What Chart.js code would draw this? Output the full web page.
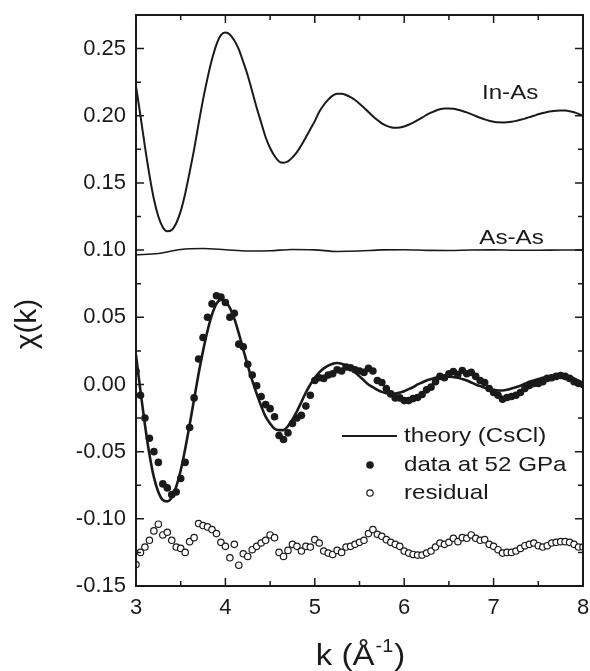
<!DOCTYPE html>
<html>
<head>
<meta charset="utf-8">
<script src="https://cdn.jsdelivr.net/npm/chart.js@4.4.1/dist/chart.umd.min.js"></script>
<style>
  html, body { margin: 0; padding: 0; background: #fff; }
  canvas { display: block; }
</style>
</head>
<body>
<canvas id="chart" width="590" height="671"></canvas>
<script>
// k grid (Å^-1) shared by theory, data and residual
const kValues = [
  3.00, 3.05, 3.10, 3.15, 3.20, 3.25, 3.30, 3.35, 3.40, 3.45, 3.50, 3.55, 3.60, 3.65, 3.70, 3.75, 3.80, 3.85, 3.90, 3.95,
  4.00, 4.05, 4.10, 4.15, 4.20, 4.25, 4.30, 4.35, 4.40, 4.45, 4.50, 4.55, 4.60, 4.65, 4.70, 4.75, 4.80, 4.85, 4.90, 4.95,
  5.00, 5.05, 5.10, 5.15, 5.20, 5.25, 5.30, 5.35, 5.40, 5.45, 5.50, 5.55, 5.60, 5.65, 5.70, 5.75, 5.80, 5.85, 5.90, 5.95,
  6.00, 6.05, 6.10, 6.15, 6.20, 6.25, 6.30, 6.35, 6.40, 6.45, 6.50, 6.55, 6.60, 6.65, 6.70, 6.75, 6.80, 6.85, 6.90, 6.95,
  7.00, 7.05, 7.10, 7.15, 7.20, 7.25, 7.30, 7.35, 7.40, 7.45, 7.50, 7.55, 7.60, 7.65, 7.70, 7.75, 7.80, 7.85, 7.90, 7.95,
  8.00
];

const theoryCsCl = [
  0.022, -0.005, -0.030, -0.052, -0.069, -0.080, -0.086, -0.087, -0.084, -0.076, -0.064, -0.048, -0.030, -0.011, 0.008, 0.025, 0.040, 0.052, 0.060, 0.063,
  0.062, 0.057, 0.049, 0.038, 0.026, 0.014, 0.003, -0.007, -0.016, -0.024, -0.029, -0.033, -0.034, -0.034, -0.031, -0.026, -0.020, -0.013, -0.006, 0.000,
  0.005, 0.009, 0.012, 0.014, 0.0155, 0.016, 0.0155, 0.014, 0.012, 0.009, 0.006, 0.003, 0.000, -0.002, -0.004, -0.0055, -0.0065, -0.007, -0.0068, -0.006,
  -0.005, -0.0035, -0.002, 0.000, 0.0015, 0.003, 0.004, 0.005, 0.0055, 0.0058, 0.0058, 0.0055, 0.005, 0.004, 0.003, 0.0015, 0.000, -0.0012, -0.0025, -0.0035,
  -0.004, -0.0045, -0.0045, -0.004, -0.003, -0.002, -0.001, 0.0005, 0.002, 0.003, 0.004, 0.005, 0.0058, 0.0063, 0.0067, 0.0068, 0.0066, 0.006, 0.0045, 0.0028,
  0.001
];

const data52GPa = [
  0.010, -0.008, -0.025, -0.040, -0.050, -0.058, -0.074, -0.077, -0.082, -0.080, -0.070, -0.058, -0.032, -0.010, 0.019, 0.035, 0.050, 0.060, 0.066, 0.065,
  0.061, 0.050, 0.053, 0.030, 0.028, 0.015, 0.007, -0.001, -0.009, -0.015, -0.018, -0.024, -0.038, -0.041, -0.036, -0.029, -0.025, -0.023, -0.016, -0.008,
  0.003, 0.005, 0.0045, 0.007, 0.008, 0.011, 0.010, 0.013, 0.0125, 0.011, 0.010, 0.009, 0.012, 0.010, 0.003, 0.0015, -0.003, -0.007, -0.010, -0.010,
  -0.012, -0.012, -0.0105, -0.0097, -0.0075, -0.004, -0.002, 0.002, 0.006, 0.005, 0.008, 0.0097, 0.0074, 0.0104, 0.008, 0.009, 0.006, 0.003, 0.0015, -0.003,
  -0.006, -0.008, -0.011, -0.0097, -0.009, -0.008, -0.006, -0.003, -0.0007, 0.0007, 0.0007, 0.002, 0.0045, 0.005, 0.006, 0.0067, 0.006, 0.0045, 0.002, 0.0007,
  0.000
];

const residual = [
  -0.134, -0.125, -0.121, -0.116, -0.109, -0.104, -0.112, -0.110, -0.116, -0.121, -0.122, -0.125, -0.117, -0.114, -0.1035, -0.105, -0.106, -0.108, -0.111, -0.1175,
  -0.1205, -0.129, -0.119, -0.1345, -0.126, -0.128, -0.123, -0.1205, -0.118, -0.116, -0.112, -0.114, -0.125, -0.128, -0.1235, -0.119, -0.1205, -0.124, -0.1205, -0.121,
  -0.1155, -0.118, -0.124, -0.1255, -0.1265, -0.1235, -0.125, -0.121, -0.1205, -0.119, -0.1175, -0.116, -0.111, -0.108, -0.1115, -0.113, -0.1155, -0.1175, -0.119, -0.1205,
  -0.124, -0.1255, -0.1265, -0.127, -0.127, -0.1255, -0.124, -0.121, -0.118, -0.119, -0.1175, -0.1145, -0.117, -0.114, -0.1145, -0.112, -0.1145, -0.116, -0.1155, -0.119,
  -0.1205, -0.123, -0.1255, -0.125, -0.125, -0.124, -0.122, -0.120, -0.119, -0.118, -0.120, -0.121, -0.120, -0.118, -0.1175, -0.117, -0.117, -0.1175, -0.119, -0.121,
  -0.121
];

// In-As shell, offset by +0.2
const inAs = [
  0.222, 0.200, 0.177, 0.156, 0.138, 0.125, 0.117, 0.114, 0.115, 0.120, 0.129, 0.142, 0.158, 0.175, 0.194, 0.212, 0.228, 0.242, 0.253, 0.260,
  0.262, 0.2605, 0.256, 0.2495, 0.240, 0.230, 0.218, 0.206, 0.195, 0.184, 0.176, 0.170, 0.166, 0.165, 0.166, 0.169, 0.173, 0.178, 0.184, 0.190,
  0.196, 0.203, 0.208, 0.212, 0.215, 0.2163, 0.2164, 0.2155, 0.2139, 0.2117, 0.209, 0.206, 0.2028, 0.1997, 0.1969, 0.1944, 0.1926, 0.1914, 0.191, 0.1913,
  0.192, 0.1933, 0.1949, 0.1967, 0.1986, 0.2006, 0.2023, 0.2037, 0.2048, 0.2054, 0.2055, 0.2052, 0.2045, 0.2036, 0.2025, 0.2012, 0.1998, 0.1985, 0.1973, 0.1963,
  0.1956, 0.1951, 0.195, 0.1952, 0.1956, 0.1962, 0.197, 0.1979, 0.199, 0.200, 0.2011, 0.202, 0.2028, 0.2034, 0.2038, 0.204, 0.2039, 0.2034, 0.2026, 0.2014,
  0.200
];

// As-As shell, offset by +0.1
const kAsAs = [3.00, 3.25, 3.50, 3.75, 4.00, 4.25, 4.50, 4.75, 5.00, 5.25, 5.50, 5.75, 6.00, 6.25, 6.50, 6.75, 7.00, 7.25, 7.50, 7.75, 8.00];
const asAs = [0.0965, 0.0975, 0.1005, 0.1012, 0.1003, 0.0993, 0.0995, 0.1005, 0.1002, 0.0990, 0.0993, 0.1002, 0.1003, 0.0998, 0.0997, 0.1001, 0.1002, 0.0999, 0.0999, 0.1001, 0.1000];

const xMajorTicks = [3, 4, 5, 6, 7, 8];
const xMinorTicks = [3.5, 4.5, 5.5, 6.5, 7.5];
const yMajorTicks = [-0.15, -0.10, -0.05, 0.00, 0.05, 0.10, 0.15, 0.20, 0.25];
const yMinorTicks = [-0.125, -0.075, -0.025, 0.025, 0.075, 0.125, 0.175, 0.225];

const shellLabels = [
  { text: "In-As", k: 6.87, chi: 0.217 },
  { text: "As-As", k: 6.84, chi: 0.1086 },
];

const INK = "#1a1a1a";
const FONT = "'Liberation Sans', Arial, Helvetica, sans-serif";

function pts(xs, ys) {
  return xs.map((x, i) => ({ x, y: ys[i] }));
}

// text drawn a bit wider than normal, the original figure is stretched sideways
function wideText(ctx, text, x, y, size, align, stretch) {
  ctx.save();
  ctx.font = size + "px " + FONT;
  ctx.textBaseline = "middle";
  ctx.textAlign = align || "left";
  ctx.translate(x, y);
  ctx.scale(stretch || 1.15, 1);
  ctx.fillText(text, 0, 0);
  ctx.restore();
}

const framePlugin = {
  id: "frame",
  afterDatasetsDraw(chart) {
    const { ctx, chartArea: a, scales } = chart;
    const x = scales.x, y = scales.y;
    ctx.save();
    ctx.fillStyle = INK;
    ctx.strokeStyle = INK;

    // shell labels
    shellLabels.forEach((l) => {
      wideText(ctx, l.text, x.getPixelForValue(l.k), y.getPixelForValue(l.chi), 21);
    });

    // legend, inside the plot
    const lx = a.left + 206, ly = a.top + 421;
    ctx.lineWidth = 2;
    ctx.beginPath();
    ctx.moveTo(lx, ly);
    ctx.lineTo(lx + 55, ly);
    ctx.stroke();
    ctx.beginPath();
    ctx.arc(lx + 28, ly + 29, 3.8, 0, Math.PI * 2);
    ctx.fill();
    ctx.lineWidth = 1.2;
    ctx.beginPath();
    ctx.arc(lx + 28, ly + 57, 3.2, 0, Math.PI * 2);
    ctx.stroke();
    wideText(ctx, "theory (CsCl)", lx + 62, ly, 21);
    wideText(ctx, "data at 52 GPa", lx + 62, ly + 29, 21);
    wideText(ctx, "residual", lx + 62, ly + 57, 21);

    // frame with inward ticks on all sides
    ctx.lineWidth = 2;
    ctx.strokeRect(a.left, a.top, a.right - a.left, a.bottom - a.top);
    ctx.lineWidth = 1.5;
    ctx.beginPath();
    const xt = (v, len) => {
      const px = x.getPixelForValue(v);
      ctx.moveTo(px, a.bottom); ctx.lineTo(px, a.bottom - len);
      ctx.moveTo(px, a.top); ctx.lineTo(px, a.top + len);
    };
    const yt = (v, len) => {
      const py = y.getPixelForValue(v);
      ctx.moveTo(a.left, py); ctx.lineTo(a.left + len, py);
      ctx.moveTo(a.right, py); ctx.lineTo(a.right - len, py);
    };
    xMajorTicks.forEach((v) => xt(v, 8));
    xMinorTicks.forEach((v) => xt(v, 5));
    yMajorTicks.forEach((v) => yt(v, 8));
    yMinorTicks.forEach((v) => yt(v, 5));
    ctx.stroke();

    // axis titles
    ctx.save();
    ctx.font = "30px " + FONT;
    ctx.textBaseline = "middle";
    ctx.textAlign = "center";
    ctx.translate(28, a.top + 309);
    ctx.rotate(-Math.PI / 2);
    ctx.fillText("\u03C7(k)", 0, 0);
    ctx.restore();

    ctx.save();
    const cx = (a.left + a.right) / 2 + 1;
    const base = 665;
    ctx.translate(cx, base);
    ctx.scale(1.1, 1);
    ctx.textBaseline = "alphabetic";
    ctx.textAlign = "left";
    ctx.font = "30px " + FONT;
    const p1 = "k (\u00C5";
    ctx.font = "18px " + FONT;
    const wSup = ctx.measureText("-1").width;
    ctx.font = "30px " + FONT;
    const w1 = ctx.measureText(p1).width;
    const w2 = ctx.measureText(")").width;
    const start = -(w1 + wSup + w2 + 2) / 2;
    ctx.fillText(p1, start, 0);
    ctx.font = "18px " + FONT;
    ctx.fillText("-1", start + w1 + 1, -13);
    ctx.font = "30px " + FONT;
    ctx.fillText(")", start + w1 + wSup + 2, 0);
    ctx.restore();

    ctx.restore();
  },
};

new Chart(document.getElementById("chart"), {
  type: "scatter",
  data: {
    datasets: [
      {
        label: "In-As",
        data: pts(kValues, inAs),
        showLine: true,
        borderColor: INK,
        borderWidth: 2,
        pointRadius: 0,
        cubicInterpolationMode: "monotone",
      },
      {
        label: "As-As",
        data: pts(kAsAs, asAs),
        showLine: true,
        borderColor: INK,
        borderWidth: 1.6,
        pointRadius: 0,
        cubicInterpolationMode: "monotone",
      },
      {
        label: "theory (CsCl)",
        data: pts(kValues, theoryCsCl),
        showLine: true,
        borderColor: INK,
        borderWidth: 2.6,
        pointRadius: 0,
        cubicInterpolationMode: "monotone",
      },
      {
        label: "data at 52 GPa",
        data: pts(kValues, data52GPa),
        showLine: false,
        pointRadius: 3.8,
        pointBackgroundColor: INK,
        pointBorderWidth: 0,
      },
      {
        label: "residual",
        data: pts(kValues, residual),
        showLine: false,
        pointRadius: 3.2,
        pointBackgroundColor: "#fff",
        pointBorderColor: INK,
        pointBorderWidth: 1.2,
      },
    ],
  },
  options: {
    responsive: false,
    animation: false,
    devicePixelRatio: 1,
    layout: { padding: { top: 15, right: 7, left: 0, bottom: 0 } },
    plugins: {
      legend: { display: false },
      tooltip: { enabled: false },
    },
    scales: {
      x: {
        type: "linear",
        min: 3,
        max: 8,
        grid: { display: false, drawTicks: false },
        border: { display: false },
        afterBuildTicks: (s) => { s.ticks = xMajorTicks.map((v) => ({ value: v })); },
        afterFit: (s) => {
          s.height = 85;
          s.paddingLeft = 0;
          s.paddingRight = 0;
        },
        ticks: {
          padding: 9,
          color: INK,
          font: { family: FONT, size: 22 },
          maxRotation: 0,
          callback: (v) => String(v),
        },
      },
      y: {
        type: "linear",
        min: -0.15,
        max: 0.275,
        grid: { display: false, drawTicks: false },
        border: { display: false },
        afterBuildTicks: (s) => { s.ticks = yMajorTicks.map((v) => ({ value: v })); },
        afterFit: (s) => {
          s.width = 136;
          s.paddingTop = 0;
          s.paddingBottom = 0;
        },
        ticks: {
          padding: 10,
          color: INK,
          font: { family: FONT, size: 22 },
          callback: (v) => Number(v).toFixed(2),
        },
      },
    },
  },
  plugins: [framePlugin],
});
</script>
</body>
</html>
